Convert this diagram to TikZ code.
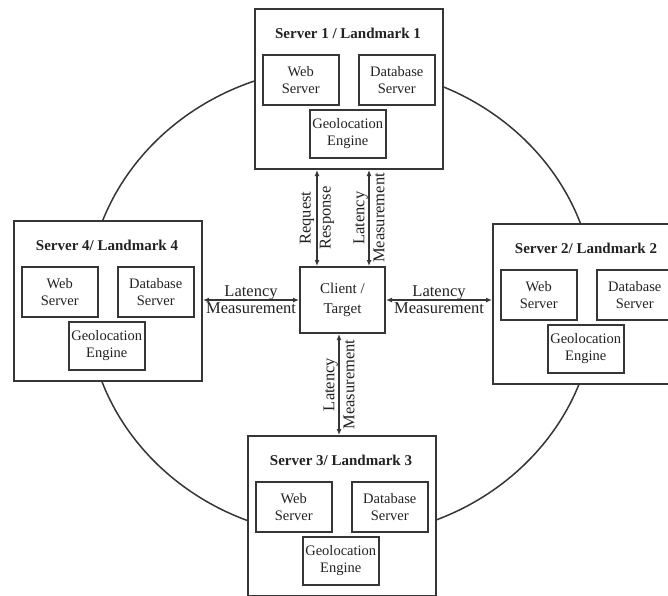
\documentclass[tikz,border=0pt]{standalone}
\usepackage{fontspec}
\setmainfont{Liberation Serif}
\usetikzlibrary{arrows.meta}
\definecolor{ink}{HTML}{363636}
\definecolor{txt}{HTML}{222222}
\tikzset{
  ring/.style={draw=ink, line width=1.5pt},
  serverbox/.style={draw=ink, line width=2pt, fill=white,
    minimum width=188pt, minimum height=160pt, inner sep=0pt},
  unittitle/.style={text=txt, inner sep=0pt,
    font=\bfseries\fontsize{15}{18}\selectfont},
  unitbox/.style={draw=ink, line width=1.5pt, fill=white,
    minimum width=76pt, minimum height=50pt, inner sep=0pt,
    align=center, text=txt, font=\fontsize{14.5}{17}\selectfont},
  clientbox/.style={draw=ink, line width=2pt, fill=white,
    minimum width=85pt, minimum height=66pt, inner sep=0pt,
    align=center, text=txt, font=\fontsize{15}{20}\selectfont},
  link/.style={draw=ink, line width=1.2pt,
    {Latex[length=6pt,width=5pt]}-{Latex[length=6pt,width=5pt]}},
  hlabel/.style={align=center, inner sep=0pt, text=txt,
    font=\fontsize{16.5}{17}\selectfont},
  vlabel/.style={hlabel, rotate=90, font=\fontsize{16.5}{20}\selectfont},
}
% One landmark: outer frame, heading and its three service boxes
\newcommand\landmarkunit[4]{%
  \node[serverbox, anchor=north west] (#1) at (#2,#3) {};
  \node[unittitle] (#1title) at ([shift={(94,25)}]#1.north west) {#4};
  \node[unitbox, anchor=north west] (#1web) at ([shift={(8,46)}]#1.north west) {Web\\Server};
  \node[unitbox, anchor=north west] (#1db) at ([shift={(104,46)}]#1.north west) {Database\\Server};
  \node[unitbox, anchor=north west, minimum height=48pt] (#1geo) at ([shift={(55,101)}]#1.north west) {Geolocation\\Engine};
}
\begin{document}
\begin{tikzpicture}[x=1pt, y=-1pt]
  \clip (0,0) rectangle (668,595);
  \fill[white] (0,0) rectangle (668,595);

  % ring joining the landmarks
  \draw[ring] (341,302) ellipse [x radius=254pt, y radius=235pt];

  \landmarkunit{s1}{254}{8}{Server 1 / Landmark 1}
  \landmarkunit{s2}{492}{223}{Server 2/ Landmark 2}
  \landmarkunit{s3}{247}{435}{Server 3/ Landmark 3}
  \landmarkunit{s4}{13}{220}{Server 4/ Landmark 4}

  \node[clientbox] (client) at (342.5,300) {Client /\\Target};

  % connectors between the client and the landmarks
  \path ([xshift=-25.5pt]client.north) coordinate (rqlow);
  \path ([xshift=26.5pt]client.north) coordinate (lmupper);
  \path ([xshift=-3.5pt]client.south) coordinate (lmlower);

  \draw[link] (rqlow) -- (rqlow |- s1.south)
    node[vlabel, midway] {Request\\Response};
  \draw[link] (lmupper) -- (lmupper |- s1.south)
    node[vlabel, midway] {Latency\\Measurement};
  \draw[link] (lmlower) -- (lmlower |- s3.north)
    node[vlabel, midway] {Latency\\Measurement};
  \draw[link] (client.west) -- (client.west -| s4.east)
    node[hlabel, midway] {Latency\\Measurement};
  \draw[link] (client.east) -- (client.east -| s2.west)
    node[hlabel, midway] {Latency\\Measurement};
\end{tikzpicture}
\end{document}
